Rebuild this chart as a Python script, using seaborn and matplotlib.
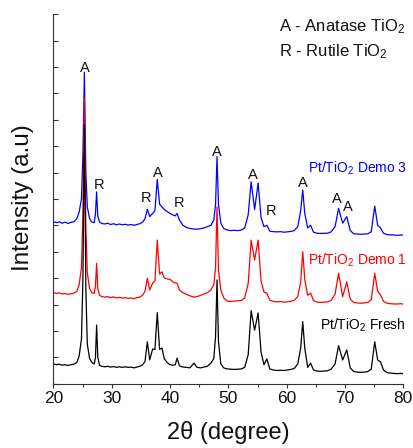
import matplotlib
matplotlib.use("Agg")
import matplotlib.pyplot as plt
import seaborn as sns
import numpy as np

# ---- data ----
two_theta = [
    20.0, 20.5, 21.0, 21.5, 22.0, 22.5, 23.0, 23.5, 24.0, 24.4,
    24.8, 25.05, 25.3, 25.55, 25.8, 26.2, 26.6, 27.0, 27.2, 27.4,
    27.6, 27.9, 28.3, 28.8, 29.3, 29.8, 30.3, 30.8, 31.3, 31.8,
    32.3, 32.8, 33.3, 33.8, 34.3, 34.8, 35.3, 35.7, 36.1, 36.5,
    37.0, 37.4, 37.8, 38.2, 38.6, 39.0, 39.5, 40.0, 40.5, 40.9,
    41.2, 41.6, 42.2, 42.8, 43.4, 44.1, 44.6, 45.2, 45.8, 46.4,
    47.0, 47.5, 47.8, 48.05, 48.3, 48.7, 49.2, 49.8, 50.4, 51.0,
    51.6, 52.2, 52.8, 53.4, 53.9, 54.5, 55.1, 55.6, 56.1, 56.6,
    57.1, 57.7, 58.3, 58.9, 59.5, 60.1, 60.7, 61.3, 61.9, 62.4,
    62.75, 63.1, 63.6, 64.1, 64.6, 65.2, 65.8, 66.4, 67.0, 67.6,
    68.3, 68.9, 69.6, 70.3, 70.9, 71.5, 72.1, 72.7, 73.3, 73.9,
    74.5, 75.1, 75.6, 76.1, 76.6, 77.2, 77.8, 78.4, 79.0, 79.5,
    80.0,
]

fresh = [
    0.75, 0.72, 0.74, 0.70, 0.72, 0.69, 0.72, 0.74, 0.80, 1.05,
    1.7, 4.0, 9.8, 3.6, 1.5, 0.95, 0.8, 0.75, 1.0, 2.22,
    1.0, 0.7, 0.66, 0.64, 0.66, 0.63, 0.65, 0.62, 0.64, 0.62,
    0.64, 0.62, 0.63, 0.60, 0.63, 0.66, 0.72, 0.85, 1.59, 0.9,
    1.31, 1.3, 2.69, 1.3, 1.35, 0.95, 0.8, 0.72, 0.70, 0.72,
    0.97, 0.68, 0.63, 0.62, 0.60, 0.78, 0.62, 0.60, 0.63, 0.66,
    0.78, 0.95, 1.8, 3.93, 1.6, 0.75, 0.6, 0.56, 0.55, 0.54,
    0.55, 0.56, 0.62, 1.1, 2.77, 2.03, 2.68, 1.2, 0.72, 0.94,
    0.56, 0.52, 0.50, 0.51, 0.50, 0.52, 0.54, 0.58, 0.75, 1.35,
    2.35, 1.35, 0.62, 0.78, 0.52, 0.48, 0.47, 0.48, 0.49, 0.55,
    0.75, 1.44, 0.9, 1.28, 0.6, 0.46, 0.44, 0.43, 0.44, 0.46,
    0.55, 1.59, 0.9, 0.82, 0.52, 0.42, 0.40, 0.39, 0.38, 0.39,
    0.38,
]

demo1 = [
    3.45, 3.42, 3.44, 3.40, 3.42, 3.38, 3.41, 3.43, 3.50, 3.75,
    4.4, 6.5, 10.82, 6.0, 4.2, 3.6, 3.45, 3.42, 3.7, 4.56,
    3.6, 3.35, 3.30, 3.28, 3.30, 3.26, 3.29, 3.25, 3.27, 3.24,
    3.26, 3.23, 3.25, 3.22, 3.26, 3.28, 3.36, 3.5, 4.0, 3.55,
    3.81, 3.9, 5.44, 4.15, 4.24, 4.0, 3.97, 3.95, 3.85, 3.82,
    3.81, 3.55, 3.45, 3.38, 3.33, 3.28, 3.30, 3.34, 3.40, 3.45,
    3.55, 3.75, 4.4, 6.70, 4.3, 3.55, 3.25, 3.13, 3.12, 3.13,
    3.14, 3.15, 3.25, 3.8, 5.44, 4.69, 5.44, 3.9, 3.47, 3.43,
    3.16, 3.12, 3.10, 3.11, 3.09, 3.10, 3.12, 3.16, 3.3, 3.85,
    5.0, 3.95, 3.35, 3.43, 3.15, 3.09, 3.08, 3.09, 3.10, 3.15,
    3.4, 4.18, 3.3, 3.86, 3.2, 3.08, 3.06, 3.05, 3.06, 3.08,
    3.18, 4.18, 3.5, 3.36, 3.12, 3.05, 3.03, 3.02, 3.02, 3.03,
    3.02,
]

demo3 = [
    6.14, 6.10, 6.13, 6.08, 6.12, 6.07, 6.11, 6.14, 6.25, 6.5,
    7.0, 8.7, 11.8, 8.0, 6.7, 6.25, 6.12, 6.10, 6.45, 7.27,
    6.35, 6.12, 6.07, 6.05, 6.08, 6.03, 6.06, 6.02, 6.05, 6.02,
    6.04, 6.01, 6.03, 6.00, 6.03, 6.06, 6.12, 6.25, 6.61, 6.33,
    6.45, 6.55, 7.74, 6.8, 6.7, 6.6, 6.52, 6.45, 6.39, 6.36,
    6.45, 6.2, 6.0, 5.92, 5.88, 5.86, 5.85, 5.87, 5.9, 5.95,
    6.0, 6.2, 6.8, 8.6, 6.8, 6.08, 5.88, 5.82, 5.80, 5.81,
    5.80, 5.82, 5.9, 6.4, 7.65, 6.6, 7.6, 6.3, 5.95, 6.0,
    5.78, 5.76, 5.75, 5.76, 5.74, 5.75, 5.77, 5.8, 5.95, 6.55,
    7.34, 6.45, 5.9, 6.0, 5.74, 5.70, 5.69, 5.70, 5.70, 5.75,
    5.95, 6.64, 6.08, 6.33, 5.8, 5.68, 5.67, 5.66, 5.67, 5.68,
    5.75, 6.73, 6.0, 5.9, 5.7, 5.65, 5.64, 5.63, 5.62, 5.63,
    5.63,
]

peak_labels = ["A", "R", "R", "A", "R", "A", "A", "R", "A", "A", "A"]
peak_label_x = [25.4, 27.85, 35.8, 37.97, 41.57, 48.0, 54.26, 57.4, 62.72, 68.65, 70.54]
peak_label_y = [11.95, 7.53, 7.05, 7.99, 6.86, 8.79, 7.9, 6.54, 7.61, 6.98, 6.68]

series_names = [r"Pt/TiO$_\mathregular{2}$ Demo 3", r"Pt/TiO$_\mathregular{2}$ Demo 1",
                r"Pt/TiO$_\mathregular{2}$ Fresh"]
legend_lines = [r"A - Anatase TiO$_\mathregular{2}$", r"R - Rutile TiO$_\mathregular{2}$"]

# ---- style ----
sns.set_style("ticks")
plt.rcParams['font.family'] = ['Liberation Sans', 'DejaVu Sans']
plt.rcParams['mathtext.fontset'] = 'custom'
plt.rcParams['mathtext.rm'] = 'Liberation Sans'
plt.rcParams['mathtext.it'] = 'Liberation Sans:italic'
plt.rcParams['mathtext.bf'] = 'Liberation Sans:bold'

fig = plt.figure(figsize=(4.13, 4.48), dpi=100)
ax = fig.add_axes([0.1295, 0.1435, 0.847, 0.825])

lw = 0.9
sns.lineplot(x=two_theta, y=demo3, color="#0000ff", lw=lw, ax=ax, sort=False)
sns.lineplot(x=two_theta, y=demo1, color="#ff0000", lw=lw, ax=ax, sort=False)
sns.lineplot(x=two_theta, y=fresh, color="black", lw=lw, ax=ax, sort=False)

ax.set_xlim(20, 80)
ax.set_ylim(0, 14)
ax.set_xticks([20, 30, 40, 50, 60, 70, 80])
ax.set_xticks([25, 35, 45, 55, 65, 75], minor=True)
ax.set_yticks(range(0, 15))
ax.set_yticklabels([])
ax.tick_params(axis='x', which='major', direction='out', length=3.2, width=0.8,
               labelsize=12.5, pad=2, color='#333333', labelcolor='#111111')
ax.tick_params(axis='x', which='minor', direction='out', length=2.2, width=0.8,
               color='#333333')
ax.tick_params(axis='y', which='major', direction='in', length=3.5, width=0.8,
               color='#333333')
for side in ['top', 'right']:
    ax.spines[side].set_visible(False)
for side in ['left', 'bottom']:
    ax.spines[side].set_linewidth(0.8)
    ax.spines[side].set_color('#333333')

ax.set_xlabel("2\u03b8 (degree)", fontsize=17, labelpad=11, color='#111111')
ax.set_ylabel("")
fig.text(23 / 413, (448 - 198) / 448, "Intensity (a.u)", rotation=90, fontsize=17.5,
         ha='center', va='center', color='#111111')

for lab, x, y in zip(peak_labels, peak_label_x, peak_label_y):
    ax.text(x, y, lab, fontsize=10.5, ha='center', va='center', color='#111111')

fig.text(407 / 413, (448 - 168.3) / 448, series_names[0], color="#0000ff", fontsize=10,
         ha='right', va='center')
fig.text(407 / 413, (448 - 260) / 448, series_names[1], color="#ff0000", fontsize=10,
         ha='right', va='center')
fig.text(406 / 413, (448 - 325) / 448, series_names[2], color="black", fontsize=10,
         ha='right', va='center')

fig.text(279 / 413, (448 - 26.7) / 448, legend_lines[0], fontsize=12, ha='left', va='center',
         color='#111111')
fig.text(279 / 413, (448 - 51.7) / 448, legend_lines[1], fontsize=12, ha='left', va='center',
         color='#111111')

fig.savefig("out.png", dpi=100)
